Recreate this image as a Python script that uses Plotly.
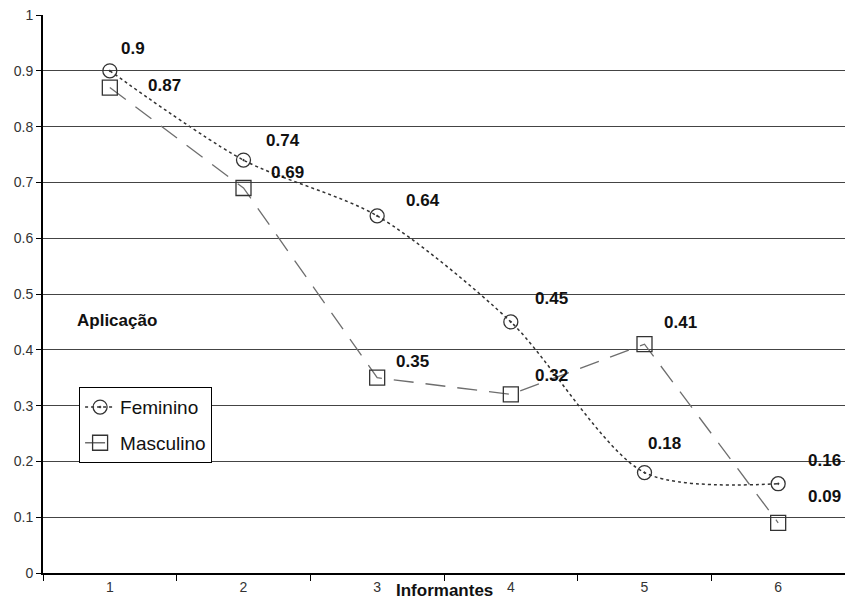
import plotly.graph_objects as go

categorias = ["1", "2", "3", "4", "5", "6"]
feminino = [0.90, 0.74, 0.64, 0.45, 0.18, 0.16]
masculino = [0.87, 0.69, 0.35, 0.32, 0.41, 0.09]
y_ticks = [0, 0.1, 0.2, 0.3, 0.4, 0.5, 0.6, 0.7, 0.8, 0.9, 1]

# label offsets in pixels (dx, dy up)
fem_off = [(23, 22), (39, 20), (46, 15), (41, 23), (20, 29), (46, 23)]
mas_off = [(55, 2), (44, 15), (35, 16), (41, 19), (36, 22), (46, 26)]

LBL = dict(family="Arial, Liberation Sans", size=17, color="#111")

fig = go.Figure()
fig.add_trace(go.Scatter(
    x=categorias, y=feminino, name="Feminino", mode="lines+markers", legendgroup="f",
    line=dict(color="#333333", width=1.5, dash="dot", shape="spline", smoothing=0.8),
    marker=dict(symbol="circle-dot", size=14, color="rgba(0,0,0,0)",
                line=dict(color="#333333", width=1.3)),
))
fig.add_trace(go.Scatter(
    x=categorias, y=masculino, name="Masculino", mode="lines+markers", legendgroup="m",
    line=dict(color="#6e6e6e", width=1.3, dash="20px,12px"),
    marker=dict(symbol="square-open", size=15, color="#333333",
                line=dict(color="#333333", width=1.3)),
))

anns = []
for i, (v, (dx, dy)) in enumerate(zip(feminino, fem_off)):
    anns.append(dict(x=i, y=v, xref="x", yref="y", text=f"<b>{v:g}</b>",
                     showarrow=False, xshift=dx, yshift=dy, font=LBL))
for i, (v, (dx, dy)) in enumerate(zip(masculino, mas_off)):
    anns.append(dict(x=i, y=v, xref="x", yref="y", text=f"<b>{v:g}</b>",
                     showarrow=False, xshift=dx, yshift=dy, font=LBL))
anns.append(dict(x=0.092, y=0.453, xref="paper", yref="paper", text="<b>Aplicação</b>",
                 showarrow=False, xanchor="center", yanchor="middle", font=LBL))
anns.append(dict(x=0.5, y=-0.031, xref="paper", yref="paper", text="<b>Informantes</b>",
                 showarrow=False, xanchor="center", yanchor="middle", font=LBL))

fig.update_layout(
    width=845, height=601,
    margin=dict(l=43, r=0, t=15, b=28),
    paper_bgcolor="white", plot_bgcolor="white",
    font=dict(family="Arial, Liberation Sans", size=14, color="#333"),
    annotations=anns,
    legend=dict(x=0.045, y=0.333, xanchor="left", yanchor="top",
                bordercolor="black", borderwidth=1, bgcolor="white",
                font=dict(size=19, color="#111"), tracegroupgap=8),
    xaxis=dict(type="category", range=[-0.5, 5.5], ticks="outside", tickson="boundaries",
               ticklen=6, tickcolor="black", showgrid=False, showline=True,
               linecolor="black", linewidth=2, tickfont=dict(size=14, color="#333")),
    yaxis=dict(range=[0, 1], tickvals=y_ticks, ticktext=[f"{t:g}" for t in y_ticks],
               ticks="outside", ticklen=5, tickcolor="black", showgrid=True,
               gridcolor="#444", gridwidth=1, showline=True, linecolor="black",
               linewidth=2, zeroline=False, tickfont=dict(size=14, color="#333")),
)
fig.write_html("out.html", config={"displayModeBar": False},
               post_script="document.body.style.margin='0';")
